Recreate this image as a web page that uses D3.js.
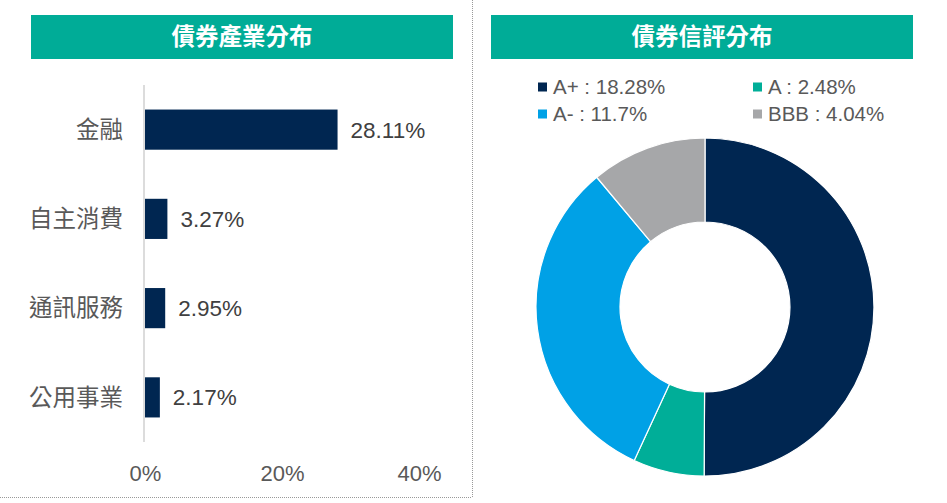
<!DOCTYPE html>
<html><head><meta charset="utf-8">
<script src="https://cdn.jsdelivr.net/npm/d3@7"></script>
<style>
html,body{margin:0;padding:0;background:#fff;}
svg{display:block;}
text{font-family:"Liberation Sans",Arial,"Noto Sans CJK TC",sans-serif;}
.cjk{font-family:"Noto Sans CJK TC","Liberation Sans",sans-serif;}
</style></head>
<body>
<svg id="c" width="947" height="503"></svg>
<script>
// ---- data ----
const industryCategories = ["金融","自主消費","通訊服務","公用事業"];
const industryValues = [28.11, 3.27, 2.95, 2.17];
const xTicks = [0, 20, 40];
const ratingCategories = ["A+","A","A-","BBB"];
const ratingValues = [18.28, 2.48, 11.7, 4.04];
const ratingLabels = ["18.28%","2.48%","11.7%","4.04%"];
const ratingColors = ["#002651","#00AE98","#00A1E6","#A6A7A9"];
const titles = ["債券產業分布","債券信評分布"];

const svg = d3.select("#c");
const teal = "#00AC97", navy = "#002651";

// dividers
svg.append("line").attr("x1",472.5).attr("x2",472.5).attr("y1",0).attr("y2",497)
  .attr("stroke","#999").attr("stroke-width",1).attr("stroke-dasharray","1,1");
svg.append("line").attr("x1",0).attr("x2",472).attr("y1",497.5).attr("y2",497.5)
  .attr("stroke","#999").attr("stroke-width",1).attr("stroke-dasharray","1,1");

// banners
[[31,453],[491,913]].forEach((b,i)=>{
  svg.append("rect").attr("x",b[0]).attr("y",15).attr("width",b[1]-b[0]).attr("height",44).attr("fill",teal);
  svg.append("text").attr("class","cjk").attr("x",(b[0]+b[1])/2).attr("y",37).attr("dy","0.35em")
    .attr("text-anchor","middle").attr("fill","#fff").attr("font-size",23.5).attr("font-weight","bold")
    .text(titles[i]);
});

// ---- bar chart ----
const x = d3.scaleLinear().domain([0,40]).range([145,419]);
const y = d3.scaleBand().domain(industryCategories).range([85,442]).paddingInner(0.55).paddingOuter(0.275);

svg.append("line").attr("x1",144).attr("x2",144).attr("y1",85).attr("y2",442)
  .attr("stroke","#d0d0d0").attr("stroke-width",1.5);

svg.selectAll("rect.bar").data(industryValues).join("rect").attr("class","bar")
  .attr("x",x(0)).attr("y",(d,i)=>y(industryCategories[i]))
  .attr("width",d=>x(d)-x(0)).attr("height",y.bandwidth()).attr("fill",navy);

svg.selectAll("text.cat").data(industryCategories).join("text").attr("class","cat cjk")
  .attr("x",123).attr("y",d=>y(d)+y.bandwidth()/2).attr("dy","0.35em")
  .attr("text-anchor","end").attr("font-size",23.5).attr("fill","#595959").text(d=>d);

svg.selectAll("text.val").data(industryValues).join("text").attr("class","val")
  .attr("x",d=>x(d)+13).attr("y",(d,i)=>y(industryCategories[i])+y.bandwidth()/2).attr("dy","0.35em")
  .attr("font-size",22.5).attr("fill","#404040").text(d=>d.toFixed(2)+"%");

const xAxis = d3.axisBottom(x).tickValues(xTicks).tickFormat(d=>d+"%").tickSize(0);
const gx = svg.append("g").attr("transform","translate(0,462)").call(xAxis);
gx.select(".domain").remove();
gx.selectAll("text").attr("font-size",22).attr("fill","#595959")
  .attr("font-family","'Liberation Sans',Arial,sans-serif");

// ---- donut ----
const cx = 705, cy = 307, rOuter = 169, rInner = 85;
const pie = d3.pie().sort(null).value(d=>d);
const arc = d3.arc().innerRadius(rInner).outerRadius(rOuter);
const g = svg.append("g").attr("transform",`translate(${cx},${cy})`);
g.selectAll("path").data(pie(ratingValues)).join("path")
  .attr("d",arc).attr("fill",(d,i)=>ratingColors[i]).attr("stroke","#fff").attr("stroke-width",1.2);

// legend
const legX = [538,753], legY = [87,114];
ratingCategories.forEach((c,i)=>{
  const lx = legX[i%2], ly = legY[Math.floor(i/2)];
  svg.append("rect").attr("x",lx).attr("y",ly-4.5).attr("width",9).attr("height",9).attr("fill",ratingColors[i]);
  svg.append("text").attr("x",lx+15).attr("y",ly).attr("dy","0.35em")
    .attr("font-size",20.5).attr("fill","#595959").text(c+" : "+ratingLabels[i]);
});
</script>
</body></html>
